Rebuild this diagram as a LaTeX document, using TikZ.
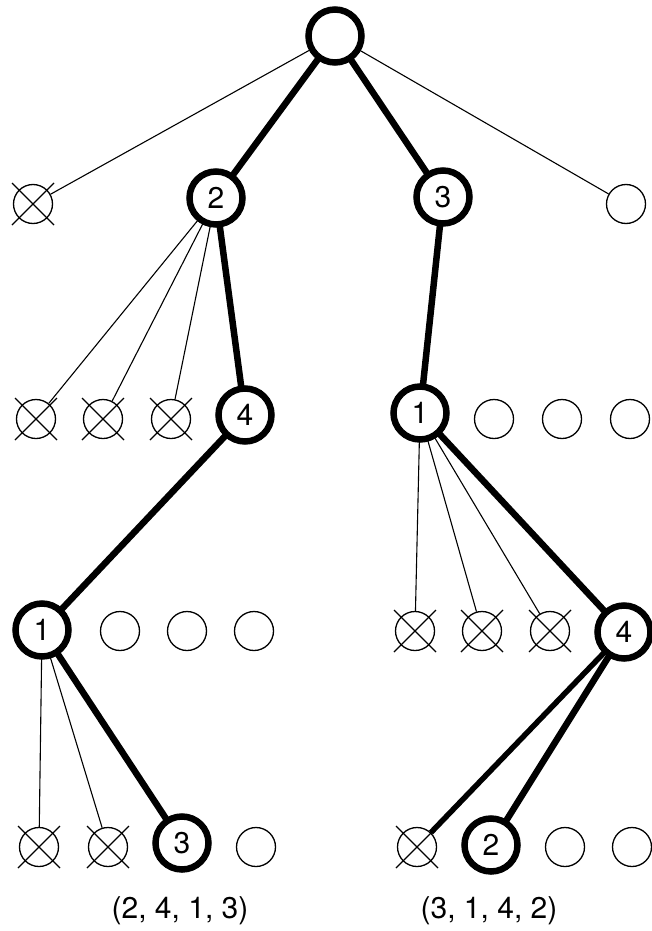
\documentclass[tikz,border=0pt]{standalone}
\usepackage{fontspec}
\setmainfont{TeX Gyre Heros}
\begin{document}
\begin{tikzpicture}[x=1pt,y=-1pt,
  bignode/.style={circle, draw, line width=6.5pt, minimum size=53pt, inner sep=0pt, outer sep=0pt, font=\fontsize{30}{34}\selectfont},
  smallnode/.style={circle, draw, line width=1.3pt, minimum size=39pt, inner sep=0pt},
  heavy/.style={line width=6.5pt},
  light/.style={line width=1.1pt},
  crossline/.style={line width=1.3pt},
  caption/.style={font=\fontsize{30}{36}\selectfont}]
\useasboundingbox (0,0) rectangle (651,931);
\fill[white] (0,0) rectangle (651,931);
% level 0
\node[bignode] (r) at (335,36) {};
% level 1
\node[smallnode] (x11) at (33,204) {};
\node[bignode] (n2) at (216,198) {2};
\node[bignode] (n3) at (443,197) {3};
\node[smallnode] (e14) at (626,204) {};
% level 2
\node[smallnode] (x21) at (36,419) {};
\node[smallnode] (x22) at (103,419) {};
\node[smallnode] (x23) at (171,419) {};
\node[bignode] (n4) at (245,415) {4};
\node[bignode] (m1) at (420,413) {1};
\node[smallnode] (e26) at (494,419) {};
\node[smallnode] (e27) at (562,419) {};
\node[smallnode] (e28) at (630,419) {};
% level 3
\node[bignode] (n1) at (42,630) {1};
\node[smallnode] (e32) at (120,631) {};
\node[smallnode] (e33) at (187,631) {};
\node[smallnode] (e34) at (254,631) {};
\node[smallnode] (x35) at (415,631) {};
\node[smallnode] (x36) at (482,631) {};
\node[smallnode] (x37) at (550,631) {};
\node[bignode] (m4) at (624,632) {4};
% level 4
\node[smallnode] (x41) at (39,847) {};
\node[smallnode] (x42) at (108,847) {};
\node[bignode] (n3b) at (182,843) {3};
\node[smallnode] (e44) at (256,847) {};
\node[smallnode] (x45) at (417,847) {};
\node[bignode] (m2) at (491,845) {2};
\node[smallnode] (e47) at (565,847) {};
\node[smallnode] (e48) at (632,847) {};
% captions
\node[caption] (c1) at (180,911) {(2, 4, 1, 3)};
\node[caption] (c2) at (489,911) {(3, 1, 4, 2)};
% crosses
\foreach \n in {x11,x21,x22,x23,x35,x36,x37,x41,x42,x45}{
  \draw[crossline] ([shift={(-21,-21)}]\n.center) -- ([shift={(21,21)}]\n.center);
  \draw[crossline] ([shift={(-21,21)}]\n.center) -- ([shift={(21,-21)}]\n.center);
}
% thin edges
\foreach \a/\b in {r/x11, r/e14, n2/x21, n2/x22, n2/x23, m1/x35, m1/x36, m1/x37, n1/x41, n1/x42}{
  \draw[light] (\a) -- (\b);
}
% thick edges
\foreach \a/\b in {r/n2, r/n3, n2/n4, n4/n1, n1/n3b, n3/m1, m1/m4, m4/m2}{
  \draw[heavy] (\a) -- (\b);
}
\draw[line width=5.5pt] (m4) -- (x45);
\end{tikzpicture}
\end{document}
